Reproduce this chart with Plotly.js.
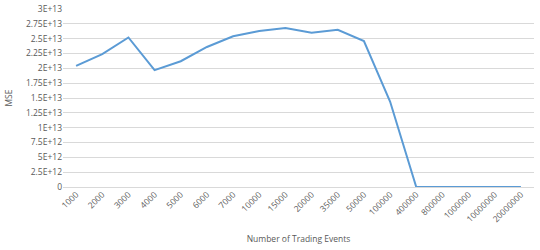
<!DOCTYPE html>
<html><head><meta charset="utf-8">
<script src="https://cdn.plot.ly/plotly-3.0.1.min.js"></script>
<style>html,body{margin:0;padding:0;background:#fff}#c{width:540px;height:250px}</style>
</head><body><div id="c"></div>
<script>
const categories = ["1000","2000","3000","4000","5000","6000","7000","10000","15000","20000","35000","50000","100000","400000","800000","1000000","10000000","20000000"];
const mse = [2.04e13,2.24e13,2.52e13,1.97e13,2.12e13,2.36e13,2.54e13,2.63e13,2.68e13,2.60e13,2.65e13,2.46e13,1.44e13,0,0,0,0,0];
const yTickVals = [0,2.5e12,5e12,7.5e12,1e13,1.25e13,1.5e13,1.75e13,2e13,2.25e13,2.5e13,2.75e13,3e13];
const yTickText = ["0","2.5E+12","5E+12","7.5E+12","1E+13","1.25E+13","1.5E+13","1.75E+13","2E+13","2.25E+13","2.5E+13","2.75E+13","3E+13"];

const font = {family: "Open Sans, Liberation Sans, sans-serif", size: 8.5, color: "#595959"};
Plotly.newPlot("c", [{
  x: categories, y: mse, type: "scatter", mode: "lines",
  line: {color: "#5B9BD5", width: 2}
}], {
  width: 540, height: 250,
  margin: {l: 63, r: 6, t: 9, b: 63},
  paper_bgcolor: "#fff", plot_bgcolor: "#fff",
  font: font,
  showlegend: false,
  xaxis: {
    type: "category", range: [-0.5, 17.5], tickangle: -45,
    showgrid: false, zeroline: false, showline: false, ticks: "",
    tickfont: font,
    title: {text: "Number of Trading Events", font: {family: font.family, size: 8.5, color: "#595959"}, standoff: 12}
  },
  yaxis: {
    range: [0, 3e13], tickvals: yTickVals, ticktext: yTickText,
    showgrid: true, gridcolor: "#d9d9d9", gridwidth: 1,
    zeroline: true, zerolinecolor: "#d9d9d9", zerolinewidth: 1,
    showline: false, ticks: "", tickfont: font,
    title: {text: "MSE", font: {family: font.family, size: 8.5, color: "#595959"}, standoff: 11}
  }
}, {displayModeBar: false, staticPlot: true});
</script></body></html>
